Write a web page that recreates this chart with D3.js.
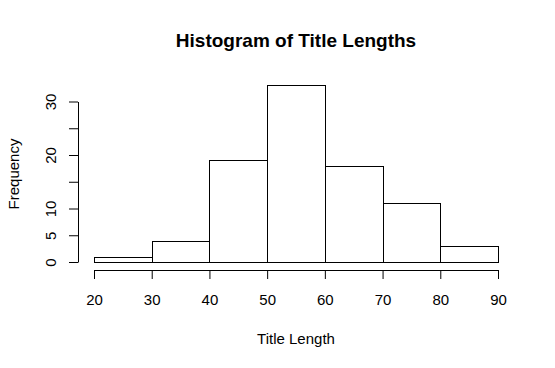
<!DOCTYPE html>
<html>
<head>
<meta charset="utf-8">
<script src="https://cdn.jsdelivr.net/npm/d3@7"></script>
<style>
  html, body { margin: 0; padding: 0; background: #fff; }
  svg { display: block; }
  text { font-family: "Liberation Sans", Arial, sans-serif; fill: #000; }
</style>
</head>
<body>
<svg id="chart" width="555" height="368"></svg>
<script>
// ---- data ----
const binStarts = [20, 30, 40, 50, 60, 70, 80];
const binWidth = 10;
const counts = [1, 4, 19, 33, 18, 11, 3];
const xTicks = [20, 30, 40, 50, 60, 70, 80, 90];
const yTicks = [0, 5, 10, 15, 20, 25, 30];
const yTickLabels = [0, 5, 10, 20, 30];
const titleText = "Histogram of Title Lengths";
const xLabelText = "Title Length";
const yLabelText = "Frequency";

// ---- layout ----
const svg = d3.select("#chart");
const x = d3.scaleLinear().domain([20, 90]).range([94, 498]);
const y = d3.scaleLinear().domain([0, 30]).range([262, 101.5]);

// bars
const bars = binStarts.map((s, i) => ({ x0: s, x1: s + binWidth, n: counts[i] }));
svg.append("g")
  .selectAll("rect")
  .data(bars)
  .join("rect")
  .attr("x", d => Math.round(x(d.x0)) + 0.5)
  .attr("width", d => Math.round(x(d.x1)) - Math.round(x(d.x0)))
  .attr("y", d => Math.round(y(d.n)) + 0.5)
  .attr("height", d => Math.round(y(0)) - Math.round(y(d.n)))
  .attr("fill", "#fff")
  .attr("stroke", "#000")
  .attr("stroke-width", 1);

// x axis
const xAxis = svg.append("g")
  .attr("transform", "translate(0,270)")
  .call(d3.axisBottom(x).tickValues(xTicks).tickSize(9).tickSizeOuter(0).tickFormat(d3.format("d")));
xAxis.selectAll("text")
  .attr("y", 35).attr("dy", null)
  .style("font-size", "15px");
xAxis.selectAll("line, path").attr("stroke", "#000");

// y axis
const yAxis = svg.append("g")
  .attr("transform", "translate(78,0)")
  .call(d3.axisLeft(y).tickValues(yTicks).tickSize(9).tickSizeOuter(0)
    .tickFormat(d => yTickLabels.includes(d) ? String(d) : ""));
yAxis.selectAll("text")
  .attr("x", null).attr("dy", null)
  .attr("text-anchor", "middle")
  .attr("transform", "translate(-22.5,0) rotate(-90)")
  .style("font-size", "15px");
yAxis.selectAll("line, path").attr("stroke", "#000");

// title
svg.append("text")
  .attr("x", 296).attr("y", 47)
  .attr("text-anchor", "middle")
  .style("font-size", "19px")
  .style("font-weight", "bold")
  .text(titleText);

// axis labels
svg.append("text")
  .attr("x", 296).attr("y", 344)
  .attr("text-anchor", "middle")
  .style("font-size", "15px")
  .text(xLabelText);

svg.append("text")
  .attr("transform", "translate(18.5,174) rotate(-90)")
  .attr("text-anchor", "middle")
  .style("font-size", "15px")
  .text(yLabelText);
</script>
</body>
</html>
